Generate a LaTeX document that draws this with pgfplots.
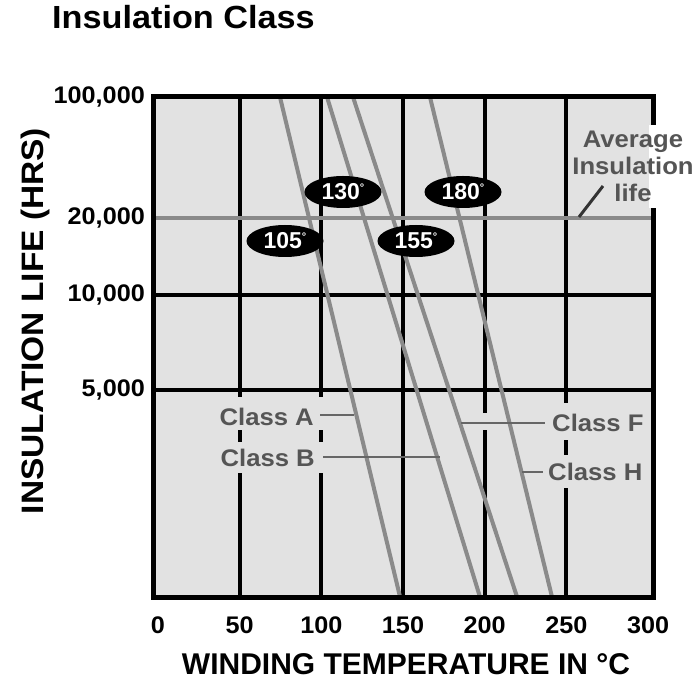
\documentclass[border=0pt]{standalone}
\usepackage{pgfplots}
\pgfplotsset{compat=1.18}
\usepackage{fontspec}
\setmainfont{Liberation Sans}
\newfontfamily\hvw{Liberation Sans}[FakeStretch=1.05]
\newfontfamily\hvs{Liberation Sans}[FakeStretch=1.07]
\newfontfamily\hvy{Liberation Sans}[FakeStretch=1.08]
\usetikzlibrary{shapes.geometric}
\definecolor{bgcol}{HTML}{E2E2E2}
\definecolor{linecol}{HTML}{8A8A8A}
\definecolor{txtcol}{HTML}{555555}
\newcommand{\dg}{\raisebox{8.5pt}{\fontsize{11}{11}\selectfont °}}
\tikzset{lbl/.style={ellipse, fill=black, minimum width=77pt, minimum height=32pt, inner sep=0pt, text=white, font=\bfseries\fontsize{23}{23}\selectfont},
  cls/.style={text=txtcol, font=\hvs\bfseries\fontsize{24}{24}\selectfont, inner sep=0pt}}
\begin{document}
\begin{tikzpicture}
\useasboundingbox (0,0) rectangle (698pt,680pt);
\begin{axis}[
  at={(153pt,83pt)}, anchor=south west,
  scale only axis, width=500pt, height=500pt,
  xmin=-3, xmax=303, ymin=0, ymax=500,
  axis line style={draw=none},
  axis background/.style={fill=bgcol},
  major tick length=0pt,
  xtick={50,100,150,200,250},
  xticklabels={50,100,150,200,250},
  extra x ticks={0,300}, extra x tick labels={0,300},
  extra x tick style={grid=none},
  ytick={207,302}, yticklabels={{5,000},{10,000}},
  extra y ticks={379,500}, extra y tick labels={{20,000},{100,000}},
  extra y tick style={grid=none},
  xmajorgrids, ymajorgrids,
  major grid style={black, line width=4pt},
  tick label style={font=\hvw\bfseries\fontsize{24}{26}\selectfont, inner sep=0pt},
  xticklabel style={yshift=-20pt},
  yticklabel style={xshift=-8pt},
  xlabel={WINDING TEMPERATURE IN °C},
  ylabel={INSULATION LIFE (HRS)},
  xlabel style={font=\bfseries\fontsize{30}{32}\selectfont, at={(axis description cs:0.506,-0.134)}, anchor=center},
  ylabel style={font=\hvy\bfseries\fontsize{31}{33}\selectfont, at={(axis description cs:-0.236,0.552)}, anchor=center},
  title={Insulation Class},
  title style={font=\hvs\bfseries\fontsize{32}{34}\selectfont, at={(axis description cs:-0.202,1.124)}, anchor=base west, inner sep=0pt},
]
% average insulation life (20,000 h)
\addplot[linecol, line width=4pt] coordinates {(-3,379) (303,379)};
% Class A (105)
\addplot[linecol, line width=4pt] coordinates {(74.7,500) (148.2,0)};
% Class B (130)
\addplot[linecol, line width=4pt] coordinates {(103.5,500) (197.1,0)};
% Class F (155)
\addplot[linecol, line width=4pt] coordinates {(119.4,500) (219.8,0)};
% Class H (180)
\addplot[linecol, line width=4pt] coordinates {(166.5,500) (241.2,0)};
\end{axis}
% label backgrounds (gaps in grid)
\fill[bgcol] (205pt,250pt) rectangle (327pt,283pt);
\fill[bgcol] (205pt,207pt) rectangle (327pt,238pt);
\fill[bgcol] (545pt,240pt) rectangle (650pt,277pt);
\fill[bgcol] (530pt,192pt) rectangle (650pt,225pt);
\fill[bgcol] (479pt,250pt) rectangle (491pt,267pt);
% pointers
\draw[txtcol!90, line width=2.5pt] (320pt,265pt) -- (354pt,265pt);
\draw[txtcol!90, line width=2.5pt] (323pt,223pt) -- (440pt,223pt);
\draw[txtcol!90, line width=2.5pt] (461pt,257pt) -- (545pt,257pt);
\draw[txtcol!90, line width=2.5pt] (522pt,208pt) -- (543pt,208pt);
% temperature ovals
\node[lbl] at (343pt,488pt) {130\dg};
\node[lbl] at (285pt,439pt) {105\dg};
\node[lbl] at (416pt,439pt) {155\dg};
\node[lbl] at (463pt,488pt) {180\dg};
% class labels
\node[cls, anchor=east] at (314pt,263pt) {Class A};
\node[cls, anchor=east] at (315pt,222pt) {Class B};
\node[cls, anchor=west] at (552pt,257pt) {Class F};
\node[cls, anchor=west] at (548pt,208pt) {Class H};
% frame
\draw[line width=5pt] (153pt,83pt) rectangle (653pt,583pt);
\fill[white] (649pt,472pt) rectangle (658pt,555pt);
% average life annotation
\draw[black!80, line width=3pt] (579pt,463pt) -- (603pt,494pt);
\node[cls, anchor=base] at (633pt,532pt) {Average};
\node[cls, anchor=base] at (633pt,505pt) {Insulation};
\node[cls, anchor=base] at (633pt,478pt) {life};
\end{tikzpicture}
\end{document}
